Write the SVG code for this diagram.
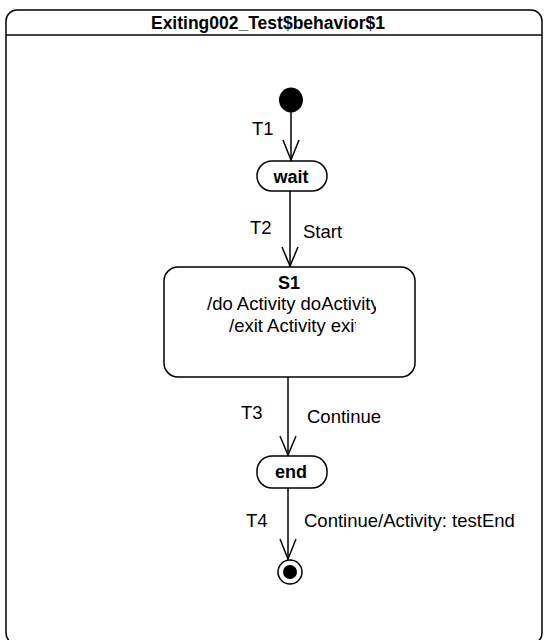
<svg xmlns="http://www.w3.org/2000/svg" width="544" height="640" viewBox="0 0 544 640">
<style>
.frame{fill:#fff;stroke:#000;stroke-width:1.5}
.st{fill:#fff;stroke:#000;stroke-width:1.5}
.edge{fill:none;stroke:#000;stroke-width:1.5}
.head{fill:none;stroke:#000;stroke-width:1.5}
text{font-family:"Liberation Sans",Arial,sans-serif;fill:#000}
.b{font-weight:bold;font-size:18px}
.t{font-size:18.5px}
.lbl{font-size:18.5px}
</style>
<defs>
<clipPath id="c1"><rect x="164" y="292" width="212" height="24"/></clipPath>
<clipPath id="c2"><rect x="164" y="316" width="192" height="22"/></clipPath>
</defs>
<rect class="frame" x="6" y="10" width="536" height="634" rx="11"/>
<line x1="6" y1="35" x2="542" y2="35" stroke="#000" stroke-width="1.5"/>
<text class="b" x="268" y="29" text-anchor="middle" style="font-size:17.5px">Exiting002_Test$behavior$1</text>
<g id="edges">
<path class="edge" d="M291 112 V161"/><path class="head" d="M283 140 L291 160 L299 140"/>
<path class="edge" d="M290 191 V267"/><path class="head" d="M282 247 L290 266 L298 247"/>
<path class="edge" d="M288 377 V456"/><path class="head" d="M280 436 L288 455 L296 436"/>
<path class="edge" d="M288 488 V560"/><path class="head" d="M280 539 L288 559 L296 539"/>
<text class="lbl" x="252" y="135">T1</text>
<text class="lbl" x="250" y="234">T2</text>
<text class="lbl" x="303" y="238">Start</text>
<text class="lbl" x="241" y="419">T3</text>
<text class="lbl" x="307" y="423">Continue</text>
<text class="lbl" x="246" y="527">T4</text>
<text class="lbl" x="304" y="527">Continue/Activity: testEnd</text>
</g>
<g id="initial"><ellipse cx="291" cy="100" rx="12" ry="12.5" fill="#000"/></g>
<g id="wait"><rect class="st" x="257" y="161" width="70" height="30" rx="15"/><text class="b" x="291" y="183" text-anchor="middle">wait</text></g>
<g id="S1"><rect class="st" x="164" y="267" width="251" height="110" rx="14"/>
<text class="b" x="289" y="289" text-anchor="middle">S1</text>
<text class="t" x="207" y="310" clip-path="url(#c1)">/do Activity doActivity</text>
<text class="t" x="229" y="332" clip-path="url(#c2)">/exit Activity exit</text></g>
<g id="end"><rect class="st" x="257" y="456" width="70" height="32" rx="15"/><text class="b" x="291" y="478" text-anchor="middle">end</text></g>
<g id="final"><circle cx="290" cy="572" r="12" fill="#fff" stroke="#000" stroke-width="1.5"/><circle cx="290" cy="572" r="7" fill="#000"/></g>
</svg>
